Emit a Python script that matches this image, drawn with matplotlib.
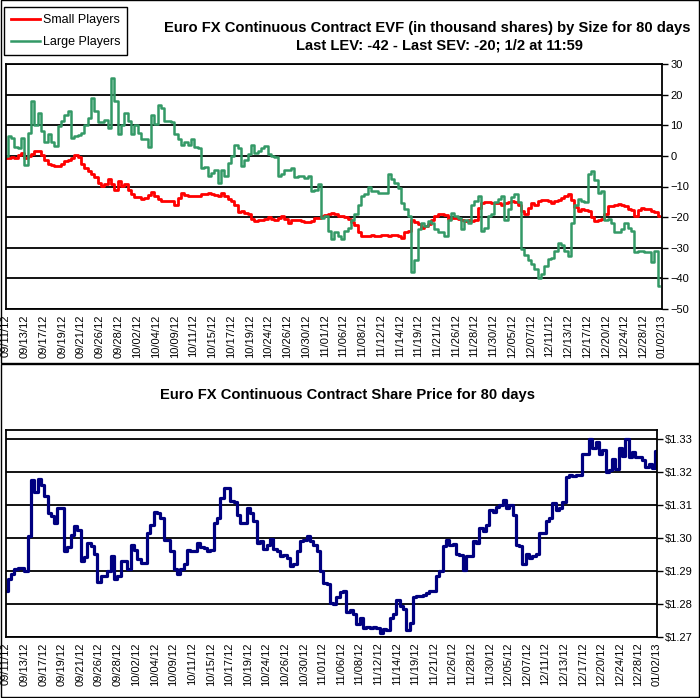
import numpy as np
import matplotlib.pyplot as plt
from matplotlib.patches import Rectangle
from matplotlib.ticker import FuncFormatter

plt.rcParams['font.family'] = ['Liberation Sans', 'DejaVu Sans']

# date labels shown under both panels
dates = ['09/11/12', '09/13/12', '09/17/12', '09/19/12', '09/21/12', '09/26/12',
         '09/28/12', '10/02/12', '10/04/12', '10/09/12', '10/11/12', '10/15/12',
         '10/17/12', '10/19/12', '10/24/12', '10/26/12', '10/30/12', '11/01/12',
         '11/06/12', '11/08/12', '11/12/12', '11/14/12', '11/19/12', '11/21/12',
         '11/26/12', '11/28/12', '11/30/12', '12/05/12', '12/07/12', '12/11/12',
         '12/13/12', '12/17/12', '12/20/12', '12/24/12', '12/28/12', '01/02/13']

# Large players (thousand shares)
large = [
    0.0, 6.4, 5.9, 3.0, 2.6, 6.0, -3.0, 7.5, 17.8, 10.0,
    14.0, 8.0, 4.5, 7.0, 4.5, 3.2, 9.7, 11.3, 13.5, 14.5,
    6.0, 6.4, 6.8, 7.5, 10.0, 12.5, 19.0, 14.5, 11.0, 11.0,
    11.8, 9.0, 25.4, 18.0, 7.0, 10.0, 14.0, 11.3, 7.0, 10.0,
    7.5, 5.5, 5.5, 3.0, 13.5, 10.5, 16.7, 15.5, 11.3, 11.3,
    11.0, 7.0, 5.5, 3.5, 4.5, 3.5, 5.5, 2.8, 2.6, -3.9,
    -3.5, -6.6, -5.5, -4.5, -9.0, -4.5, -6.6, -2.3, 0.0, 3.7,
    2.6, -3.4, -1.2, 0.5, 3.7, 1.0, 1.5, 2.6, 3.2, 0.5,
    0.0, -0.5, -6.5, -6.0, -4.5, -4.5, -4.0, -7.0, -6.6, -6.6,
    -7.2, -6.6, -11.5, -11.0, -9.3, -20.2, -19.7, -24.5, -27.3, -25.0,
    -26.0, -27.3, -24.5, -23.5, -21.0, -19.0, -16.0, -13.2, -12.6, -10.0,
    -11.5, -11.5, -12.0, -12.0, -12.0, -6.0, -7.5, -9.0, -10.4, -15.5,
    -17.5, -19.5, -38.0, -34.0, -24.0, -22.0, -23.0, -21.3, -22.0, -24.0,
    -25.0, -25.0, -26.2, -20.8, -18.6, -19.5, -20.2, -24.0, -20.8, -21.8,
    -16.0, -14.8, -13.2, -24.6, -23.5, -19.7, -19.1, -15.0, -14.0, -13.2,
    -20.8, -17.5, -13.5, -12.6, -15.0, -30.5, -32.5, -34.0, -35.2, -37.0,
    -39.8, -38.5, -36.0, -33.8, -33.5, -31.0, -28.4, -29.0, -31.0, -32.7,
    -22.0, -16.0, -14.0, -14.8, -15.0, -6.0, -5.0, -8.0, -12.0, -11.5,
    -20.8, -20.5, -22.0, -25.0, -25.0, -24.0, -22.0, -23.5, -24.5, -31.5,
    -31.0, -31.0, -31.5, -31.5, -34.5, -31.0, -42.5]

# Small players (thousand shares)
small = [
    -0.7, -0.7, -0.5, -0.7, 0.3, 1.0, -0.7, 0.0, 0.5, 1.5,
    1.5, 0.2, -1.2, -2.5, -3.0, -3.2, -3.4, -2.8, -1.7, -1.4,
    -0.8, 0.2, -0.5, -2.8, -3.9, -4.8, -6.0, -7.0, -9.0, -9.9,
    -9.3, -7.7, -9.3, -11.0, -8.3, -9.9, -9.3, -11.0, -12.6, -13.4,
    -13.4, -14.0, -13.6, -12.8, -11.8, -13.0, -14.2, -14.6, -14.8, -14.8,
    -14.8, -15.9, -13.6, -12.2, -12.8, -13.2, -13.2, -13.0, -13.0, -12.6,
    -12.4, -12.0, -12.6, -12.8, -13.2, -12.0, -13.2, -14.0, -14.8, -16.0,
    -18.4, -18.0, -18.6, -19.0, -20.5, -21.3, -21.0, -20.8, -20.5, -19.8,
    -20.5, -20.8, -20.2, -19.7, -20.6, -21.8, -20.8, -20.8, -20.8, -21.3,
    -21.5, -21.6, -21.3, -20.2, -20.4, -19.5, -19.3, -19.0, -18.6, -19.0,
    -19.5, -19.7, -19.9, -20.6, -21.6, -22.7, -24.8, -26.0, -26.2, -26.2,
    -25.7, -26.0, -26.0, -25.7, -25.8, -26.0, -25.7, -25.8, -26.0, -26.7,
    -25.0, -24.5, -20.8, -21.5, -22.4, -23.5, -22.9, -22.4, -21.0, -19.7,
    -19.1, -19.1, -19.3, -20.5, -20.2, -20.4, -20.6, -20.8, -21.3, -20.8,
    -21.2, -20.8, -17.0, -15.3, -15.2, -15.1, -15.5, -15.4, -15.5, -15.9,
    -15.3, -14.9, -14.8, -15.2, -16.0, -18.0, -19.1, -17.0, -15.3, -15.9,
    -14.8, -14.3, -14.5, -14.8, -15.3, -14.8, -14.3, -13.8, -13.2, -12.6,
    -14.5, -16.8, -18.0, -17.5, -17.8, -18.0, -20.0, -21.3, -20.8, -20.6,
    -19.0, -16.4, -16.4, -15.9, -15.6, -15.9, -16.4, -17.5, -17.7, -19.5,
    -17.8, -17.0, -17.2, -17.5, -18.0, -18.3, -19.7]

# Euro FX share price ($)
price = [
    1.2838, 1.2877, 1.2890, 1.2905, 1.2909, 1.2909, 1.2900, 1.3005, 1.3175, 1.3140,
    1.3180, 1.3160, 1.3128, 1.3075, 1.3065, 1.3045, 1.3092, 1.3090, 1.2960, 1.2973,
    1.3010, 1.3035, 1.3025, 1.2930, 1.2942, 1.2985, 1.2975, 1.2950, 1.2866, 1.2884,
    1.2884, 1.2900, 1.2944, 1.2875, 1.2885, 1.2930, 1.2930, 1.2906, 1.2980, 1.2965,
    1.2935, 1.2924, 1.2924, 1.3015, 1.3040, 1.3080, 1.3076, 1.3060, 1.2995, 1.2995,
    1.2960, 1.2905, 1.2890, 1.2905, 1.2920, 1.2965, 1.2960, 1.2960, 1.2985, 1.2972,
    1.2970, 1.2962, 1.2965, 1.3045, 1.3060, 1.3120, 1.3150, 1.3150, 1.3111, 1.3110,
    1.3070, 1.3045, 1.3045, 1.3092, 1.3076, 1.3050, 1.2985, 1.2990, 1.2968, 1.2980,
    1.2998, 1.2968, 1.2960, 1.2944, 1.2948, 1.2940, 1.2916, 1.2920, 1.2960, 1.2990,
    1.2995, 1.3005, 1.2990, 1.2980, 1.2962, 1.2900, 1.2864, 1.2860, 1.2803, 1.2800,
    1.2820, 1.2836, 1.2840, 1.2777, 1.2782, 1.2770, 1.2740, 1.2757, 1.2727, 1.2730,
    1.2727, 1.2730, 1.2728, 1.2712, 1.2724, 1.2722, 1.2757, 1.2770, 1.2813, 1.2795,
    1.2785, 1.2720, 1.2742, 1.2820, 1.2825, 1.2825, 1.2828, 1.2833, 1.2840, 1.2840,
    1.2885, 1.2900, 1.2975, 1.2995, 1.2980, 1.2982, 1.2950, 1.2948, 1.2904, 1.2944,
    1.2944, 1.2990, 1.2985, 1.3030, 1.3022, 1.3040, 1.3086, 1.3078, 1.3095, 1.3101,
    1.3116, 1.3090, 1.3100, 1.3070, 1.2980, 1.2975, 1.2920, 1.2950, 1.2940, 1.2945,
    1.2950, 1.3015, 1.3015, 1.3050, 1.3060, 1.3105, 1.3085, 1.3090, 1.3110, 1.3185,
    1.3190, 1.3188, 1.3190, 1.3192, 1.3253, 1.3255, 1.3300, 1.3273, 1.3290, 1.3255,
    1.3265, 1.3200, 1.3205, 1.3240, 1.3210, 1.3273, 1.3248, 1.3300, 1.3245, 1.3260,
    1.3245, 1.3245, 1.3235, 1.3215, 1.3225, 1.3212, 1.3263]

evf_ticks = [-50, -40, -30, -20, -10, 0, 10, 20, 30]
price_ticks = [1.27, 1.28, 1.29, 1.30, 1.31, 1.32, 1.33]

W, H = 700, 698
fig = plt.figure(figsize=(W / 100, H / 100), dpi=100)


def px_axes(x0, y0, x1, y1):
    return fig.add_axes([x0 / W, 1 - y1 / H, (x1 - x0) / W, (y1 - y0) / H])


def style(ax, ticks, n):
    for s in ax.spines.values():
        s.set_linewidth(1.3)
        s.set_color('black')
    ax.yaxis.tick_right()
    ax.set_yticks(ticks)
    ax.yaxis.grid(True, color='black', linewidth=1.3)
    ax.set_axisbelow(True)
    ax.set_xlim(0, n)
    ax.set_xticks(np.linspace(0, n, len(dates)))
    ax.set_xticklabels(dates, rotation=90, fontsize=8)
    ax.tick_params(axis='x', length=0, pad=4)
    ax.tick_params(axis='y', labelsize=8, length=4, width=1, pad=2)


# top panel: EVF by size
ax1 = px_axes(6, 64, 662, 309)
x = np.arange(len(large))
ax1.plot(x, small, color='#ff0000', lw=2.0, drawstyle='steps-mid',
         label='Small Players')
ax1.plot(x, large, color='#339966', lw=1.8, drawstyle='steps-mid',
         label='Large Players')
ax1.set_ylim(-50, 30)
style(ax1, evf_ticks, len(large) - 0.2)

fig.text(427 / W, 1 - 28 / H,
         'Euro FX Continuous Contract EVF (in thousand shares) by Size for 80 days',
         ha='center', va='center', fontsize=10.6, fontweight='bold')
fig.text(439 / W, 1 - 46 / H, 'Last LEV: -42 - Last SEV: -20; 1/2 at 11:59',
         ha='center', va='center', fontsize=10.6, fontweight='bold')

leg = fig.legend(handles=ax1.get_lines(), loc='upper left',
                 bbox_to_anchor=(4 / W, 1 - 7 / H), fontsize=9, frameon=True,
                 fancybox=False, edgecolor='black', framealpha=1,
                 handlelength=2.3, handletextpad=0.25, borderpad=0.55,
                 labelspacing=0.8, borderaxespad=0)
leg.get_frame().set_linewidth(1)

# bottom panel: share price
ax2 = px_axes(6, 430, 657, 637)
x2 = np.arange(len(price))
ax2.plot(x2, price, color='#000080', lw=2.3, drawstyle='steps-mid')
ax2.set_ylim(1.27, 1.3327)
style(ax2, price_ticks, len(price) - 1)
ax2.yaxis.set_major_formatter(FuncFormatter(lambda v, p: f'${v:.2f}'))

fig.text(348 / W, 1 - 395 / H, 'Euro FX Continuous Contract Share Price for 80 days',
         ha='center', va='center', fontsize=10.6, fontweight='bold')

# outer frames of the two chart images
for (y0, y1) in [(0, 363), (364, 697)]:
    fig.add_artist(Rectangle((0.5 / W, 1 - y1 / H), (W - 1.5) / W, (y1 - y0) / H,
                             transform=fig.transFigure, fill=False,
                             edgecolor='black', linewidth=1))

fig.savefig('out.png', dpi=100)
